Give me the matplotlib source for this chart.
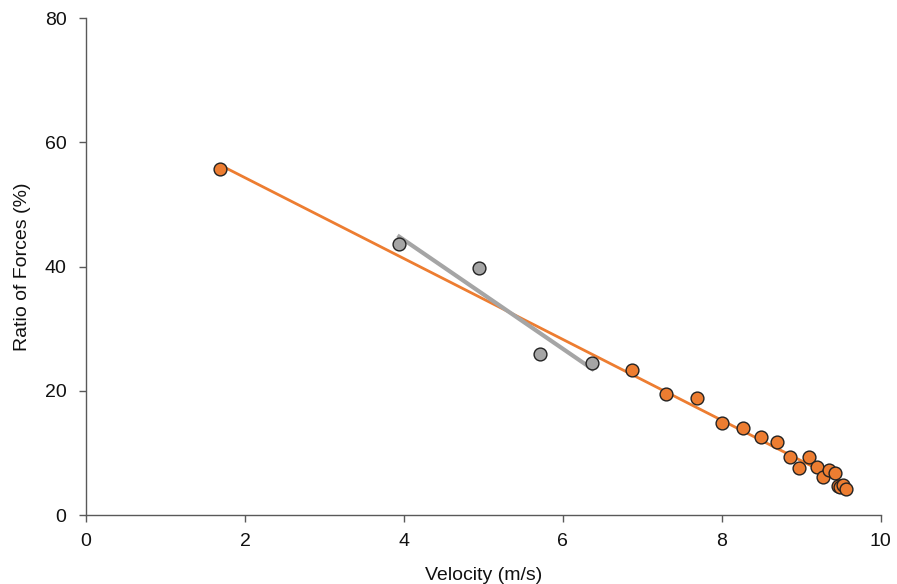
import numpy as np
import matplotlib
matplotlib.use("Agg")
import matplotlib.pyplot as plt

plt.rcParams["font.family"] = ["Liberation Sans", "DejaVu Sans"]

# Orange series (velocity m/s, ratio %)
orange_x = [1.69, 6.87, 7.30, 7.69, 8.00, 8.27, 8.49, 8.70, 8.86, 8.97,
            9.10, 9.20, 9.27, 9.35, 9.42, 9.46, 9.49, 9.53, 9.56]
orange_y = [55.7, 23.3, 19.5, 18.8, 14.9, 14.0, 12.6, 11.7, 9.3, 7.6,
            9.3, 7.7, 6.2, 7.2, 6.8, 4.7, 4.5, 4.9, 4.2]

# Gray series
gray_x = [3.94, 4.94, 5.71, 6.37]
gray_y = [43.6, 39.7, 25.9, 24.5]

orange = "#ED7D31"
gray = "#A5A5A5"

fig = plt.figure(figsize=(8.97, 5.84), dpi=100)
ax = fig.add_axes([0.0959, 0.118, 0.886, 0.851])

# linear trend lines
k, b = np.polyfit(orange_x, orange_y, 1)
xs = np.array([min(orange_x), max(orange_x)])
ax.plot(xs, k * xs + b, color=orange, lw=2, zorder=2)

k2, b2 = np.polyfit(gray_x, gray_y, 1)
xs2 = np.array([min(gray_x), max(gray_x)])
ax.plot(xs2, k2 * xs2 + b2, color=gray, lw=3, zorder=2)

ax.scatter(gray_x, gray_y, s=85, color=gray, edgecolor="#222222", linewidth=1, zorder=3)
ax.scatter(orange_x, orange_y, s=85, color=orange, edgecolor="#222222", linewidth=1, zorder=3)

ax.set_xlim(0, 10)
ax.set_ylim(0, 80)
ax.set_xticks([0, 2, 4, 6, 8, 10])
ax.set_yticks([0, 20, 40, 60, 80])

for s in ["top", "right"]:
    ax.spines[s].set_visible(False)
for s in ["left", "bottom"]:
    ax.spines[s].set_color("#595959")
    ax.spines[s].set_linewidth(1)
ax.tick_params(colors="#595959", labelcolor="#111111", labelsize=14, length=5, width=1)
ax.tick_params(axis="x", pad=8)
ax.tick_params(axis="y", pad=9)

ax.set_xlabel("Velocity (m/s)", fontsize=14, labelpad=12, color="#111111")
ax.set_ylabel("Ratio of Forces (%)", fontsize=14, labelpad=10, color="#111111")

fig.savefig("out.png", dpi=100)
